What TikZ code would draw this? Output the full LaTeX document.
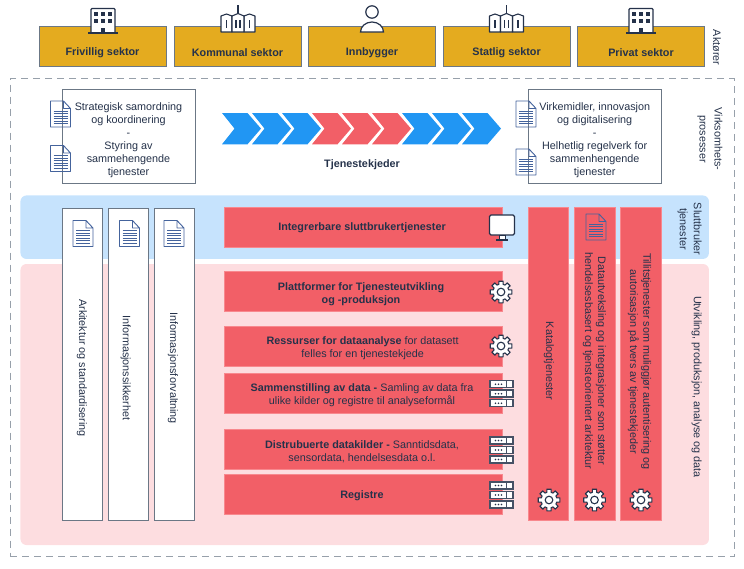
\documentclass[tikz,border=0pt]{standalone}
\usepackage{fontspec}
\setmainfont{Liberation Sans}
\usetikzlibrary{positioning}

\definecolor{sectorgold}{HTML}{E4AB1F}
\definecolor{chainblue}{HTML}{2196F3}
\definecolor{barred}{HTML}{F25F67}
\definecolor{barredline}{HTML}{F8888E}
\definecolor{bandblue}{HTML}{C6E3FD}
\definecolor{bandpink}{HTML}{FDDDE0}
\definecolor{frameline}{HTML}{6B7785}
\definecolor{inkdark}{HTML}{25324A}
\definecolor{docblue}{HTML}{44639C}

\tikzset{
	sectorbox/.style={draw=frameline, fill=sectorgold, line width=0.9pt, minimum width=127pt, minimum height=39.5pt, inner sep=0pt},
	whitebox/.style={draw=frameline, fill=white, line width=0.9pt, inner sep=0pt},
	redbar/.style={draw=barredline, fill=barred, line width=0.7pt, inner sep=0pt},
	band/.style={rounded corners=6pt, inner sep=0pt, minimum width=688.5pt},
	sidetext/.style={text=inkdark, font=\fontsize{10.8}{13.2}\selectfont, align=center, inner sep=0pt, rotate=-90},
	bodytext/.style={text=inkdark, font=\fontsize{10.8}{13}\selectfont, align=center, inner sep=0pt, yshift=-1.6pt},
	boldtext/.style={bodytext, font=\fontsize{10.8}{13}\selectfont\bfseries},
	chevron/.pic={\fill (0,113) -- (25.5,113) -- (39,128.6) -- (25.5,144.3) -- (0,144.3) -- (12.5,128.6) -- cycle;},
	docicon/.pic={
		\draw[docblue, line width=0.9pt, line join=round] (-10,-13) -- (3,-13) -- (10,-5.5) -- (10,13) -- (-10,13) -- cycle (3,-13) -- (3,-5.5) -- (10,-5.5);
		\foreach \ypos in {-3,-0.5,...,9.5}
			\draw[docblue, line width=0.8pt] (-7,\ypos) -- (7,\ypos);
	},
	gearicon/.pic={
		\draw[inkdark, fill=white, line width=1.1pt, line join=round] (-15:8) \foreach \ang in {0,45,...,315} { -- (\ang-15:8) -- (\ang-11:11) -- (\ang+11:11) -- (\ang+15:8) } -- cycle;
		\draw[inkdark, fill=white, line width=1.1pt] (0,0) circle (3.8);
	},
	serverrow/.pic={
		\draw[inkdark!85, fill=white, line width=1.5pt] (-11.5,-3.5) rectangle (11.5,3.5);
		\draw[inkdark!85, line width=1.5pt] (5,-3.5) -- (5,3.5);
		\fill[inkdark] (-6,0) circle (0.9) (-3,0) circle (0.9) (0,0) circle (0.9);
	},
	servericon/.pic={
		\pic at (0,-9.5) {serverrow};
		\pic at (0,0) {serverrow};
		\pic at (0,9.5) {serverrow};
	},
	screenicon/.pic={
		\draw[inkdark, fill=white, line width=1.2pt, rounded corners=1.5pt] (-12.5,-12.5) rectangle (12.5,7.5);
		\draw[inkdark, fill=white, line width=1pt] (-3,7.5) rectangle (3,12);
		\draw[inkdark, line width=1.2pt] (-6,12.5) -- (6,12.5);
	},
	officeicon/.pic={
		\draw[inkdark, fill=white, line width=1.2pt, rounded corners=1pt] (-12,32.5) -- (-12,8.5) -- (12,8.5) -- (12,32.5);
		\draw[inkdark, line width=1.6pt] (-15,33) -- (15,33);
		\foreach \xpos in {-7,0,7}
			\foreach \ypos in {14,21}
				\fill[inkdark] (\xpos-1.7,\ypos-1.7) rectangle (\xpos+1.7,\ypos+1.7);
		\fill[inkdark] (-2,27.5) rectangle (2,33);
	},
	hallicon/.pic={
		\draw[inkdark, line width=1.1pt] (0,5) -- (0,14);
		\draw[inkdark, fill=white, line width=1.1pt, line join=round] (-17,32) -- (-17,16) -- (-11.5,14) -- (-6,16) -- (-6,32) -- cycle;
		\draw[inkdark, fill=white, line width=1.1pt, line join=round] (6,32) -- (6,16) -- (11.5,14) -- (17,16) -- (17,32) -- cycle;
		\draw[inkdark, fill=white, line width=1.1pt, line join=round] (-6,32) -- (-6,16) -- (0,13.5) -- (6,16) -- (6,32) -- cycle;
		\foreach \xpos in {-11.5,-2,2,11.5}
			\fill[inkdark] (\xpos-0.9,20) rectangle (\xpos+0.9,28);
	},
}

\begin{document}
\begin{tikzpicture}[x=1pt, y=-1pt]
	\useasboundingbox (0,0) rectangle (744,568);

	% Draw the sector boxes
	\node[sectorbox] (frivillig) at (102.5,46.5) {};
	\node[sectorbox] (kommunal) at (237.5,46.5) {};
	\node[sectorbox] (innbygger) at (372,46.5) {};
	\node[sectorbox] (statlig) at (506.5,46.5) {};
	\node[sectorbox] (privat) at (641,46.5) {};

	\node[boldtext] (frivilligtext) at (102.5,51) {Frivillig sektor};
	\node[boldtext] (kommunaltext) at (237.5,51) {Kommunal sektor};
	\node[boldtext] (innbyggertext) at (372,51) {Innbygger};
	\node[boldtext] (statligtext) at (506.5,51) {Statlig sektor};
	\node[boldtext] (privattext) at (641,51) {Privat sektor};

	% Draw the icons on top of the sectors
	\pic at (103,0) {officeicon};
	\pic at (238,0) {hallicon};
	\pic at (506.5,0) {hallicon};
	\pic at (641,0) {officeicon};
	\draw[inkdark, fill=white, line width=1.2pt] (372,12) circle (6.2);
	\draw[inkdark, fill=white, line width=1.2pt] (360.5,32) arc (180:360:11.5 and 10) -- cycle;

	\node[sidetext] (aktorer) at (717,47.5) {Aktører};

	% Draw the dashed frame
	\node[draw=frameline!70, dashed, dash pattern=on 7pt off 5pt, line width=0.9pt, minimum width=724pt, minimum height=478pt, inner sep=0pt] (prosessramme) at (372,317.5) {};

	% Draw the process boxes
	\node[whitebox, minimum width=132.5pt, minimum height=94pt] (samordning) at (128.7,136.5) {};
	\node[bodytext] (samordningtext) at (128.5,138.5) {Strategisk samordning\\og koordinering\\-\\Styring av\\sammehengende\\tjenester};
	\node[whitebox, minimum width=132.5pt, minimum height=94pt] (virkemidler) at (594.7,136.5) {};
	\node[bodytext] (virkemidlertext) at (594.7,138.5) {Virkemidler, innovasjon\\og digitalisering\\-\\Helhetlig regelverk for\\sammenhengende\\tjenester};

	\pic at (60.5,114) {docicon};
	\pic at (60.5,158.5) {docicon};
	\pic at (526,114) {docicon};
	\pic at (526,162) {docicon};

	% Draw the service chain
	\pic[chainblue] at (222,0) {chevron};
	\pic[chainblue] at (252,0) {chevron};
	\pic[chainblue] at (282,0) {chevron};
	\pic[barred] at (312,0) {chevron};
	\pic[barred] at (342,0) {chevron};
	\pic[barred] at (372,0) {chevron};
	\pic[chainblue] at (402,0) {chevron};
	\pic[chainblue] at (432,0) {chevron};
	\pic[chainblue] at (462,0) {chevron};
	\node[boldtext] (tjenestekjeder) at (362,163.5) {Tjenestekjeder};

	\node[sidetext, font=\fontsize{10.8}{15}\selectfont] (virksomhet) at (710,139) {Virksomhets-\\prosesser};

	% Draw the two bands
	\node[band, fill=bandblue, minimum height=63.5pt] (sluttbrukerband) at (364.7,227.2) {};
	\node[band, fill=bandpink, minimum height=281pt] (utviklingband) at (364.7,404.5) {};

	\node[sidetext, font=\fontsize{10.8}{14}\selectfont] (sluttbruker) at (689.7,229) {Sluttbruker\\tjenester};
	\node[sidetext] (utvikling) at (696.7,387) {Utvikling, produksjon, analyse og data};

	% Draw the white columns
	\node[whitebox, minimum width=40pt, minimum height=312pt] (arkitektur) at (82.5,364) {};
	\node[whitebox, minimum width=40pt, minimum height=312pt] (sikkerhet) at (128,364) {};
	\node[whitebox, minimum width=40pt, minimum height=312pt] (forvaltning) at (174.3,364) {};

	\pic at (83,233.5) {docicon};
	\pic at (129.5,233.5) {docicon};
	\pic at (174,233.5) {docicon};

	\node[sidetext] (arkitekturtext) at (82,368) {Arkitektur og standardisering};
	\node[sidetext] (sikkerhettext) at (125.7,368) {Informasjonssikkerhet};
	\node[sidetext] (forvaltningtext) at (173,368) {Informasjonsforvaltning};

	% Draw the red bars
	\node[redbar, minimum width=278pt, minimum height=40pt] (integrerbare) at (363,227.5) {};
	\node[redbar, minimum width=278pt, minimum height=40pt] (plattformer) at (363,291.5) {};
	\node[redbar, minimum width=278pt, minimum height=40pt] (ressurser) at (363,346) {};
	\node[redbar, minimum width=278pt, minimum height=40pt] (sammenstilling) at (363,393.5) {};
	\node[redbar, minimum width=278pt, minimum height=40pt] (distribuerte) at (363,449.5) {};
	\node[redbar, minimum width=278pt, minimum height=40pt] (registre) at (363,494.5) {};

	\node[boldtext] (integrerbaretext) at (362,226) {Integrerbare sluttbrukertjenester};
	\node[boldtext] (plattformertext) at (361,292.2) {Plattformer for Tjenesteutvikling\\og -produksjon};
	\node[bodytext] (ressursertext) at (362.7,347) {\textbf{Ressurser for dataanalyse} for datasett\\felles for en tjenestekjede};
	\node[bodytext] (sammenstillingtext) at (362,393.5) {\textbf{Sammenstilling av data -} Samling av data fra\\ulike kilder og registre til analyseformål};
	\node[bodytext] (distribuertetext) at (362,450) {\textbf{Distrubuerte datakilder -} Sanntidsdata,\\sensordata, hendelsesdata o.l.};
	\node[boldtext] (registretext) at (362,494) {Registre};

	\pic at (502,227.5) {screenicon};
	\pic at (501,292) {gearicon};
	\pic at (501,346) {gearicon};
	\pic at (501.5,393.7) {servericon};
	\pic at (501.5,450) {servericon};
	\pic at (501.5,495) {servericon};

	% Draw the red columns
	\node[redbar, minimum width=40.5pt, minimum height=312.5pt] (katalog) at (548.2,363.7) {};
	\node[redbar, minimum width=41pt, minimum height=312.5pt] (datautveksling) at (594.5,363.7) {};
	\node[redbar, minimum width=40.5pt, minimum height=312.5pt] (tillit) at (640.7,363.7) {};

	\node[sidetext] (katalogtext) at (549,361) {Katalogtjenester};
	\node[sidetext] (datautvekslingtext) at (594.4,361) {Datautveksling og integrasjoner som støtter\\hendelsesbasert og tjensteorientert arkitektur};
	\node[sidetext] (tillittext) at (639.5,361.5) {Tillitstjenester som muliggjør autentisering og\\autorisasjon på tvers av tjenestekjeder};

	\pic at (596,227) {docicon};
	\pic at (549,500) {gearicon};
	\pic at (594.5,500) {gearicon};
	\pic at (641,500) {gearicon};
\end{tikzpicture}
\end{document}
